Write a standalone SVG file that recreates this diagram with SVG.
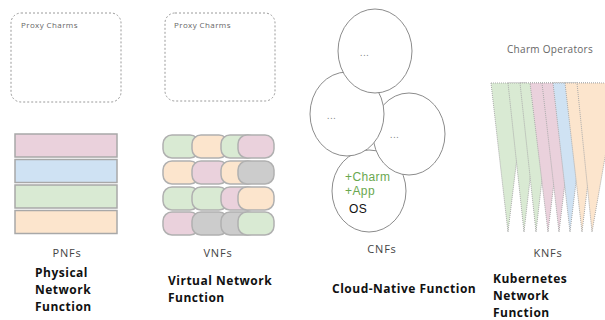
<svg xmlns="http://www.w3.org/2000/svg" width="605" height="320" viewBox="0 0 605 320">
<style>
.proxy{fill:none;stroke:#9a9a9a;stroke-width:1;stroke-dasharray:2 2}
.ptxt{font-family:"Open Sans",sans-serif;font-size:8px;fill:#666;letter-spacing:0.4px}
.bar{stroke:#a8a8a8;stroke-width:1.5}
.pill{stroke:#b0b0b0;stroke-width:1.5}
.g{fill:#d9ead3}.p{fill:#fce5cd}.k{fill:#ead1dc}.b{fill:#cfe2f3}.y{fill:#cccccc}
.ell{fill:#fff;stroke:#8c8c8c;stroke-width:1}
.dots{font-family:"Open Sans",sans-serif;font-size:9px;fill:#777;letter-spacing:0.8px}
.lab{font-family:"Open Sans",sans-serif;font-size:11px;fill:#444;letter-spacing:0.8px;text-anchor:middle}
.ttl{font-family:"Open Sans",sans-serif;font-size:12px;font-weight:bold;fill:#111;letter-spacing:0.5px}
.tri{stroke:#aaa;stroke-width:1;stroke-dasharray:1 1}
.cnf{font-family:"Liberation Sans",Arial,sans-serif;font-size:12px;letter-spacing:0.4px}
</style>
<g id="pnf">
<rect class="proxy" x="11" y="13" width="110" height="89" rx="10"/>
<text class="ptxt" x="21" y="28">Proxy Charms</text>
<rect class="bar k" x="15" y="134" width="102" height="23"/>
<rect class="bar b" x="15" y="159.5" width="102" height="23"/>
<rect class="bar g" x="15" y="185" width="102" height="23"/>
<rect class="bar p" x="15" y="210.5" width="102" height="23"/>
<text class="lab" x="67" y="257">PNFs</text>
<text class="ttl" x="35" y="277">Physical</text>
<text class="ttl" x="35" y="294">Network</text>
<text class="ttl" x="35" y="311">Function</text>
</g>
<g id="vnf">
<rect class="proxy" x="165" y="13" width="110" height="88" rx="10"/>
<text class="ptxt" x="174" y="28">Proxy Charms</text>
<rect class="pill g" x="163" y="135" width="36" height="23" rx="9"/>
<rect class="pill p" x="192" y="135" width="36" height="23" rx="9"/>
<rect class="pill g" x="221" y="135" width="36" height="23" rx="9"/>
<rect class="pill k" x="238" y="135" width="36" height="23" rx="9"/>
<rect class="pill p" x="163" y="161" width="36" height="23" rx="9"/>
<rect class="pill k" x="192" y="161" width="36" height="23" rx="9"/>
<rect class="pill p" x="221" y="161" width="36" height="23" rx="9"/>
<rect class="pill y" x="238" y="161" width="36" height="23" rx="9"/>
<rect class="pill g" x="163" y="187" width="36" height="23" rx="9"/>
<rect class="pill g" x="192" y="187" width="36" height="23" rx="9"/>
<rect class="pill k" x="221" y="187" width="36" height="23" rx="9"/>
<rect class="pill p" x="238" y="187" width="36" height="23" rx="9"/>
<rect class="pill k" x="163" y="212" width="36" height="23" rx="9"/>
<rect class="pill y" x="192" y="212" width="36" height="23" rx="9"/>
<rect class="pill y" x="221" y="212" width="36" height="23" rx="9"/>
<rect class="pill g" x="238" y="212" width="36" height="23" rx="9"/>
<text class="lab" x="218" y="257">VNFs</text>
<text class="ttl" x="168" y="285">Virtual Network</text>
<text class="ttl" x="168" y="302">Function</text>
</g>
<g id="cnf">
<ellipse class="ell" cx="369" cy="191" rx="37" ry="41"/>
<ellipse class="ell" cx="409" cy="134" rx="36" ry="41"/>
<ellipse class="ell" cx="347" cy="114" rx="37" ry="42"/>
<ellipse class="ell" cx="375" cy="51" rx="37" ry="42"/>
<text class="dots" x="360" y="56">...</text>
<text class="dots" x="327" y="119">...</text>
<text class="dots" x="390" y="138">...</text>
<text class="cnf" x="345" y="181" fill="#6aa84f">+Charm</text>
<text class="cnf" x="345" y="195" fill="#6aa84f">+App</text>
<text class="cnf" x="349" y="213" fill="#111">OS</text>
<text class="lab" x="382" y="253">CNFs</text>
<text class="ttl" x="332" y="293">Cloud-Native Function</text>
</g>
<g id="knf">
<text class="ptxt" x="507" y="53" style="font-size:10px;letter-spacing:0.3px">Charm Operators</text>
<polygon class="tri g" points="491,83 526,83 508,232"/>
<polygon class="tri g" points="508,83 541,83 524,232"/>
<polygon class="tri g" points="520,83 553,83 536,232"/>
<polygon class="tri k" points="530,83 566,83 548,232"/>
<polygon class="tri k" points="542,83 577,83 559,232"/>
<polygon class="tri b" points="553,83 588,83 570,232"/>
<polygon class="tri p" points="565,83 600,83 582,232"/>
<polygon class="tri p" points="577,83 618,83 592,232"/>
<text class="lab" x="548" y="257">KNFs</text>
<text class="ttl" x="493" y="283">Kubernetes</text>
<text class="ttl" x="493" y="300">Network</text>
<text class="ttl" x="493" y="317">Function</text>
</g>
<g id="connectors"/>
</svg>
